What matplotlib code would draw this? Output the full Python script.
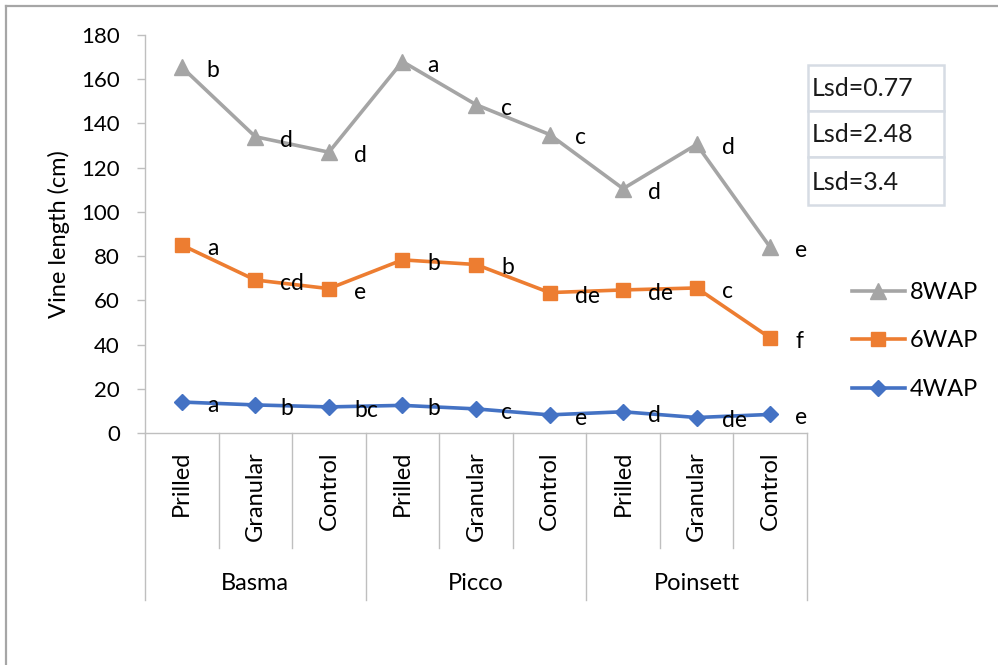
import matplotlib
matplotlib.use("Agg")
import matplotlib.pyplot as plt
from matplotlib.patches import Rectangle
from matplotlib.lines import Line2D
import matplotlib.transforms as mtransforms

plt.rcParams['font.family'] = ['Lato', 'DejaVu Sans']

# Data
varieties = ["Basma", "Picco", "Poinsett"]
treatments = ["Prilled", "Granular", "Control"]
wap8 = [165.5, 134, 127, 168, 148.5, 135, 110.5, 130.5, 84]
wap6 = [85, 69.2, 65.3, 78.3, 76.2, 63.5, 64.7, 65.6, 43]
wap4 = [14, 12.7, 11.8, 12.5, 10.9, 8.2, 9.6, 7, 8.4]
letters8 = ["b", "d", "d", "a", "c", "c", "d", "d", "e"]
letters6 = ["a", "cd", "e", "b", "b", "de", "de", "c", "f"]
letters4 = ["a", "b", "bc", "b", "c", "e", "d", "de", "e"]
lsd_values = ["Lsd=0.77", "Lsd=2.48", "Lsd=3.4"]
yticks = [0, 20, 40, 60, 80, 100, 120, 140, 160, 180]

W, H = 998, 665
fig = plt.figure(figsize=(W / 100, H / 100), dpi=100)

# outer chart frame (top and left edges visible)
fig.add_artist(Line2D([6 / W, 1.0], [1 - 6 / H, 1 - 6 / H], color="#A6A6A6", lw=1.6))
fig.add_artist(Line2D([6 / W, 6 / W], [0.0, 1 - 6 / H], color="#A6A6A6", lw=1.6))

left, right, top, bottom = 145, 807, 35, 433
ax = fig.add_axes([left / W, 1 - bottom / H, (right - left) / W, (bottom - top) / H])

x = list(range(len(wap8)))
grey, orange, blue = "#A5A5A5", "#ED7D31", "#4472C4"

l8, = ax.plot(x, wap8, color=grey, lw=2.6, marker="^", ms=11, label="8WAP", clip_on=False)
l6, = ax.plot(x, wap6, color=orange, lw=2.6, marker="s", ms=10, label="6WAP", clip_on=False)
l4, = ax.plot(x, wap4, color=blue, lw=2.6, marker="D", ms=8.5, label="4WAP", clip_on=False)

for vals, labs in ((wap8, letters8), (wap6, letters6), (wap4, letters4)):
    for xi, v, t in zip(x, vals, labs):
        ax.annotate(t, (xi, v), xytext=(18, -2.5), textcoords="offset points",
                    ha="left", va="center", fontsize=16.5, color="black")

ax.set_xlim(-0.5, len(x) - 0.5)
ax.set_ylim(0, 180)
ax.set_yticks(yticks)
ax.set_xticks([])
ax.tick_params(axis="y", direction="out", length=6, width=1, color="#BFBFBF",
               labelsize=16, pad=12)
for s in ("top", "right"):
    ax.spines[s].set_visible(False)
for s in ("left", "bottom"):
    ax.spines[s].set_color("#BFBFBF")
    ax.spines[s].set_linewidth(1)
ax.set_ylabel("Vine length (cm)", fontsize=17, labelpad=8)

# multi-level category axis
trans = mtransforms.blended_transform_factory(ax.transData, ax.transAxes)
h_px = bottom - top
inner_low = -(548 - bottom) / h_px
outer_low = -(600 - bottom) / h_px
for i in range(len(x) + 1):
    xb = i - 0.5
    low = outer_low if i % 3 == 0 else inner_low
    ax.add_line(Line2D([xb, xb], [0, low], transform=trans, color="#BFBFBF",
                       lw=1, clip_on=False))
for i, xi in enumerate(x):
    ax.text(xi, -(451 - bottom) / h_px, treatments[i % 3], transform=trans,
            rotation=90, ha="center", va="top", fontsize=17)
for g, name in enumerate(varieties):
    ax.text(g * 3 + 1, -(583 - bottom) / h_px, name, transform=trans,
            ha="center", va="center", fontsize=17)

# legend
ax.legend(handles=[l8, l6, l4], loc="upper left", frameon=False, fontsize=17,
          bbox_to_anchor=(840 / W, 1 - 270 / H), bbox_transform=fig.transFigure,
          handlelength=2.25, handletextpad=0.2, labelspacing=1.17, borderpad=0)

# Lsd box
bx0, bx1 = 808, 944
rows = [(65, 111), (111, 157), (157, 205)]
for (y0, y1), txt in zip(rows, lsd_values):
    fig.add_artist(Rectangle((bx0 / W, 1 - y1 / H), (bx1 - bx0) / W, (y1 - y0) / H,
                             transform=fig.transFigure, facecolor="white",
                             edgecolor="#D6DCE4", lw=1.8))
    fig.text(812 / W, 1 - ((y0 + y1) / 2 + 1) / H, txt, ha="left", va="center",
             fontsize=18, color="#1a1a1a")

fig.savefig("out.png", dpi=100, facecolor="white")
